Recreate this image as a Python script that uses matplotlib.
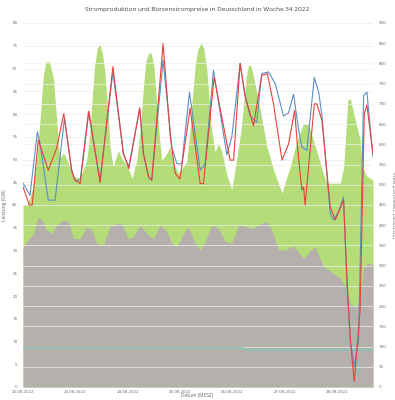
import matplotlib
matplotlib.use("Agg")
import matplotlib.pyplot as plt

plt.rcParams['font.family'] = ['Open Sans', 'DejaVu Sans']

# hours since 22.08.2022 00:00
day_labels = ['22.08.2022', '23.08.2022', '24.08.2022', '25.08.2022',
              '26.08.2022', '27.08.2022', '28.08.2022']
day_hours = [0, 24, 48, 72, 96, 120, 144]

# total production (GW) - green area
gen_h = [0, 2, 4.7, 6.5, 7.8, 9.3, 10.5, 12, 13.9, 15.4, 16.5, 17.5, 18.5, 20.8, 23.1,
         26.1, 29.2, 30.5, 31.5, 32.8, 34, 35.3, 36.5, 37.6, 39, 39.9, 41.3, 43.7,
         45.5, 47.6, 50, 52.1, 53.8, 55.2, 56.3, 57.5, 58.7, 60, 61.3, 62.5, 63.6,
         66, 67.4, 69.5, 71.2, 75, 76.3, 77.5, 79, 80, 81.5, 82.8, 84.2, 85.3, 86.3,
         88, 89.6, 91.1, 93.4, 95.7, 98, 99.8, 101.1, 102.3, 103.4, 104.5, 105.6,
         107, 108.7, 111.8, 114.8, 118.7, 121, 122.5, 125.5, 128.6, 130.9, 134.7,
         137.8, 139.3, 145.4, 147, 148.8, 150, 152.3, 154.6, 155.4, 157.6, 160.4]
gen_v = [40, 40, 44, 51, 58.7, 68.5, 71.5, 71.5, 68, 59, 52, 50.5, 51.5, 49.2, 46.3,
         45.9, 49.8, 55, 62.1, 70.5, 74.5, 75.3, 73, 68.9, 60, 52.8, 48.4, 52,
         50, 48.8, 45.9, 49.8, 57, 66, 71.5, 73.3, 73.5, 70.5, 62.1, 55, 49.8,
         51.4, 52.8, 48.5, 47, 49.5, 55, 63, 71, 74, 75.5, 74.5, 70, 63, 57,
         51.7, 53.5, 51.7, 46.6, 43.3, 50.3, 56, 62.1, 68, 70.8, 70.5, 68.3,
         65, 61, 52.8, 47.7, 42.6, 46.3, 48.4, 54, 58, 57.6, 51.7,
         46.6, 44.8, 44.8, 48.4, 63, 63.4, 58.6, 54.2, 48.4, 46.3, 45.5]

# conventional production (GW) - grey area
conv_h = [0, 1.7, 4.7, 7, 8.6, 10.8, 13.1, 15.4, 18.5, 20.8, 23.1, 26.1, 29.2, 31.5,
          33.8, 36.8, 39.9, 43, 45.3, 48.3, 50.6, 53.7, 56.7, 59.8, 62.8, 65.9, 68.2,
          70.5, 73.5, 75.8, 78.9, 81.2, 83.5, 86.5, 89.6, 92.7, 95.7, 98.8, 102.6,
          105.6, 108.7, 111.8, 114, 117.1, 120.1, 124, 128.6, 131.7, 133.9, 137.8,
          142.3, 145.4, 147.7, 150, 153, 154.6, 156.1, 158.4, 160.4]
conv_v = [30.8, 31.9, 33.7, 37.4, 36.7, 34.5, 33.7, 35.6, 36.7, 36.3, 32.6, 32.6, 35.2, 34.5,
          31.6, 31.2, 35.4, 35.9, 35.9, 32.6, 33, 35.6, 33.7, 32.6, 35.6, 34.1, 31.6,
          30.8, 33.7, 35.2, 31.6, 30.1, 32, 35.6, 34.8, 32, 31.6, 35.6, 35.2,
          34.8, 35.9, 36.3, 34.5, 30.1, 30.1, 31, 28.2, 30.1, 30.8, 26.4,
          25, 23.9, 22, 18.3, 17.6, 19.8, 26.4, 27.3, 26.8]

# prices (Euro/MWh)
blue_h = [0, 3.2, 6.6, 7.8, 11.6, 14.7, 19, 22.3, 23.8, 26.2, 30, 35.3, 41.2, 46, 48.5,
          53.5, 55.2, 57.5, 59, 64.2, 68.2, 70.5, 72.8, 76.3, 81.2, 83.5, 87.3, 93.4,
          95.7, 99.5, 101.8, 104.1, 107.1, 109.4, 112.5, 115.6, 119.4, 121.7, 124,
          126.3, 127.8, 130.1, 133.5, 135.5, 137, 140.8, 142.3, 144.6, 146.9, 148.5,
          150, 151.8, 153.8, 156.1, 157.6, 160.4]
blue_v = [504, 474, 631, 602, 462, 462, 664, 536, 511, 511, 680, 511, 779, 577, 545,
          689, 577, 520, 511, 808, 593, 552, 552, 729, 536, 552, 783, 574,
          618, 800, 719, 670, 654, 775, 779, 750, 670, 678, 724,
          636, 594, 585, 765, 729, 671, 429, 413, 433, 470, 248,
          116, 50, 116, 721, 729, 568]
red_h = [0, 2.9, 4.2, 7, 11.6, 15.4, 18.7, 22.3, 23.8, 26.2, 30.2, 35.3, 41.2, 46, 48.5,
         53.5, 55.2, 57.5, 59, 64.2, 67.5, 69.8, 71.9, 76.6, 81.2, 82.7, 87.6, 94.9,
         96.5, 99.5, 101.8, 105.6, 109.4, 112, 114.8, 118.7, 121.7, 124.5, 125.8,
         127.8, 128.6, 129.3, 133.5, 134.7, 137, 140.8, 143.1, 146.9, 148.5, 150,
         151.8, 154.5, 156.4, 157.6, 160.4]
red_v = [495, 450, 450, 611, 536, 590, 676, 536, 511, 503, 682, 505, 792, 577, 540,
         690, 577, 520, 511, 849, 620, 528, 514, 689, 503, 503, 766, 561,
         561, 800, 719, 646, 770, 775, 700, 561, 601, 684, 594,
         487, 495, 450, 700, 700, 659, 445, 413, 462, 264, 116,
         13, 190, 676, 697, 577]

# CO2 price (Euro/tCO2)
co2_h = [0, 100, 103, 160.4]
co2_v = [97, 97, 92, 92]

fig = plt.figure(figsize=(3.95, 4.0), dpi=100)
ax = fig.add_axes([23/395, 13/400, 350/395, 364/400])
ax2 = ax.twinx()

ax.fill_between(gen_h, 0, gen_v, color='#b4dc78', lw=0, zorder=1)
ax.fill_between(conv_h, 0, conv_v, color='#b5b0ac', lw=0, zorder=2)

ax2.plot(co2_h, co2_v, color='#7fc6b9', lw=1.0)
ax2.plot(blue_h, blue_v, color='#5b8fc7', lw=0.8)
ax2.plot(red_h, red_v, color='#e8413c', lw=0.8)

ax.set_xlim(0, 160.4)
ax.set_ylim(0, 80)
ax2.set_ylim(0, 900)
ax.set_yticks(range(0, 81, 5))
ax2.set_yticks(range(0, 901, 50))
ax.set_xticks(day_hours)
ax.set_xticklabels(day_labels)

ax.set_axisbelow(True)
ax.grid(axis='y', color='#ebebeb', lw=0.5)
ax2.grid(axis='y', color='#f0f0f0', lw=0.5)
ax2.set_zorder(ax.get_zorder() + 1)
ax2.patch.set_visible(False)

for a in (ax, ax2):
    for s in a.spines.values():
        s.set_visible(False)
    a.tick_params(length=0, labelsize=3.2, colors='#666666', pad=4)
ax.tick_params(axis='x', pad=2)

ax.set_ylabel('Leistung (GW)', fontsize=3.5, color='#666666', labelpad=4)
ax2.set_ylabel('Preis (Euro/MWh, Euro/tCO2)', fontsize=3.5, color='#666666',
               rotation=-90, labelpad=7)
fig.text(0.5, 4/400, 'Datum (MESZ)', ha='center', va='center', fontsize=3.5,
         color='#666666')
fig.text(0.5, 0.975, 'Stromproduktion und Börsenstrompreise in Deutschland in Woche 34 2022',
         ha='center', va='center', fontsize=4.6, color='#444444')

fig.savefig('out.png', dpi=100)
